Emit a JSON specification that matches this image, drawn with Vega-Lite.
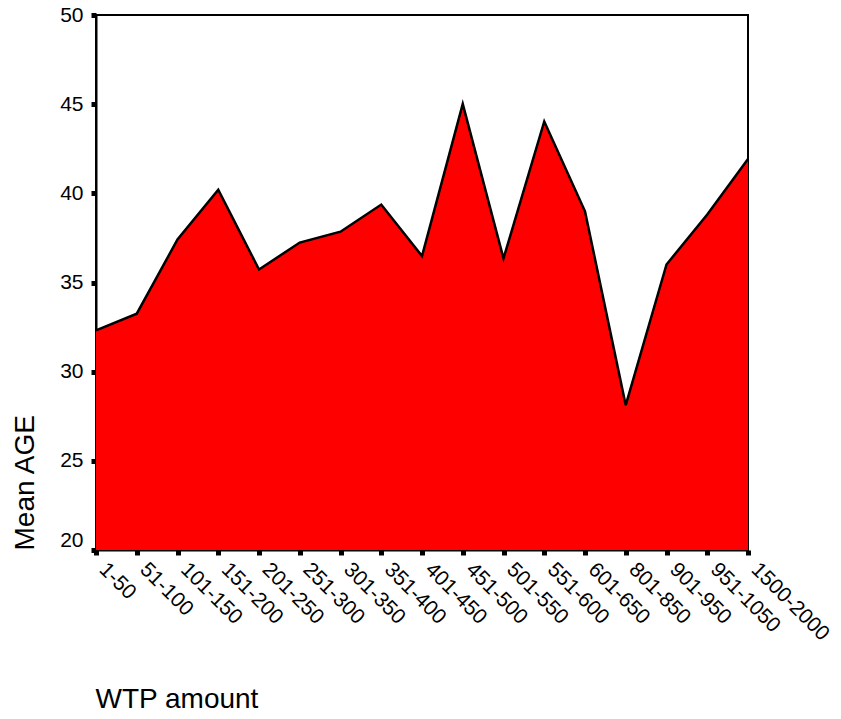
{
  "$schema": "https://vega.github.io/schema/vega-lite/v6.json",
  "width": 652,
  "height": 535,
  "autosize": {"type": "none"},
  "padding": {"left": 96, "top": 15, "right": 93, "bottom": 169},
  "background": "white",
  "config": {
    "font": "Liberation Sans",
    "view": {"stroke": "black", "strokeWidth": 2},
    "axis": {
      "domainColor": "black",
      "domainWidth": 2,
      "tickColor": "black",
      "tickSize": 5,
      "tickWidth": 5,
      "labelColor": "black",
      "labelFont": "Liberation Sans",
      "labelFontSize": 21,
      "titleFont": "Liberation Sans",
      "titleFontSize": 28,
      "titleFontWeight": "normal",
      "titleColor": "black",
      "grid": false
    }
  },
  "data": {
    "values": [
      {"wtp": "1-50", "age": 32.32},
      {"wtp": "51-100", "age": 33.25},
      {"wtp": "101-150", "age": 37.41},
      {"wtp": "151-200", "age": 40.2},
      {"wtp": "201-250", "age": 35.73},
      {"wtp": "251-300", "age": 37.24},
      {"wtp": "301-350", "age": 37.85},
      {"wtp": "351-400", "age": 39.37},
      {"wtp": "401-450", "age": 36.48},
      {"wtp": "451-500", "age": 45.02},
      {"wtp": "501-550", "age": 36.35},
      {"wtp": "551-600", "age": 44.03},
      {"wtp": "601-650", "age": 38.99},
      {"wtp": "801-850", "age": 28.12},
      {"wtp": "901-950", "age": 36.01},
      {"wtp": "951-1050", "age": 38.81},
      {"wtp": "1500-2000", "age": 41.92}
    ]
  },
  "mark": {
    "type": "area",
    "color": "#FF0000",
    "opacity": 1,
    "line": {"color": "black", "strokeWidth": 2.5}
  },
  "encoding": {
    "x": {
      "field": "wtp",
      "type": "ordinal",
      "sort": null,
      "scale": {"type": "point", "padding": 0},
      "axis": {
        "title": "WTP amount",
        "labelAngle": 45,
        "labelAlign": "left",
        "labelBaseline": "middle",
        "labelPadding": 11,
        "labelOffset": 6,
        "titleX": -1,
        "titleY": 157,
        "titleAlign": "left",
        "titleBaseline": "alphabetic",
        "titleAnchor": null
      }
    },
    "y": {
      "field": "age",
      "type": "quantitative",
      "scale": {"domain": [20, 50], "zero": false, "nice": false},
      "axis": {
        "title": "Mean AGE",
        "values": [20, 25, 30, 35, 40, 45, 50],
        "labelPadding": 8,
        "labelBaseline": {"expr": "datum.value == 20 ? 'bottom' : 'middle'"},
        "titleAngle": -90,
        "titleX": -63,
        "titleY": 535,
        "titleAlign": "left",
        "titleBaseline": "alphabetic"
      }
    },
    "y2": {"datum": 20}
  }
}
